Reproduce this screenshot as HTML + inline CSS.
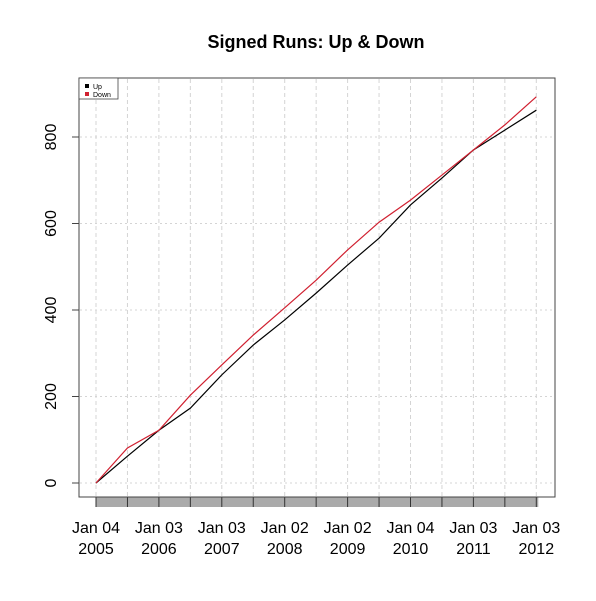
<!DOCTYPE html>
<html><head><meta charset="utf-8"><style>
body{margin:0;background:#fff;}
svg{font-family:"Liberation Sans",Arial,sans-serif;}
</style></head><body>
<svg id="chart" width="596" height="596">
<text x="316" y="48" text-anchor="middle" font-size="18" font-weight="bold">Signed Runs: Up &amp; Down</text>
<g id="grid"></g>
<g id="axes"></g>
<g id="series"></g>
<rect x="79" y="78" width="476" height="419" fill="none" stroke="#444" stroke-width="1"/>
<g>
<rect x="79" y="78" width="39" height="21" fill="#fff" stroke="#444" stroke-width="0.8"/>
<rect x="85" y="84" width="4" height="4" fill="#000"/>
<text x="93" y="89" font-size="7">Up</text>
<rect x="85" y="92" width="4" height="4" fill="#d02030"/>
<text x="93" y="97" font-size="7">Down</text>
</g>
</svg>
<script>
const years = [2005,2005.5,2006,2006.5,2007,2007.5,2008,2008.5,2009,2009.5,2010,2010.5,2011,2011.5,2012];
const upValues = [0,62,122,173,250,319,377,439,504,566,643,705,770,816,862];
const downValues = [0,81,122,203,273,342,405,469,539,603,654,712,770,828,893];
const yTicks = [0,200,400,600,800];
const xLabelYears = [2005,2006,2007,2008,2009,2010,2011,2012];
const xLabelDays = ["Jan 04","Jan 03","Jan 03","Jan 02","Jan 02","Jan 04","Jan 03","Jan 03"];
const NS="http://www.w3.org/2000/svg";
const xs=y=>96+(y-2005)*62.9;
const ys=v=>483-v*0.4325;
function mk(tag,attrs,parent){const e=document.createElementNS(NS,tag);for(const k in attrs)e.setAttribute(k,attrs[k]);parent.appendChild(e);return e;}
const grid=document.getElementById('grid'),axes=document.getElementById('axes'),series=document.getElementById('series');
years.forEach(y=>{
 const l=mk('line',{x1:xs(y),x2:xs(y),y1:79,y2:496,stroke:'#d4d4d4','stroke-dasharray':'4,3'},grid);
 
 
});
yTicks.forEach(v=>{
 const l=mk('line',{x1:80,x2:554,y1:ys(v),y2:ys(v),stroke:'#d4d4d4','stroke-dasharray':'2,3'},grid);
 
 
 const t=mk('line',{x1:72,x2:79,y1:ys(v),y2:ys(v),stroke:'#444'},axes);
 
 
 const tx=mk('text',{x:0,y:0,'font-size':'16','text-anchor':'middle',transform:`translate(56,${ys(v)}) rotate(-90)`},axes);
 tx.textContent=v;
 
 
});
const bar=mk('rect',{x:xs(2005),y:497,width:xs(2012)-xs(2005)+2,height:10,fill:'#aaa'},axes);


years.forEach(y=>{
 const t=mk('line',{x1:xs(y),x2:xs(y),y1:497,y2:507,stroke:'#333'},axes);
 
 
});
xLabelYears.forEach((y,i)=>{
 const t=mk('text',{x:xs(y),y:533,'font-size':'16','text-anchor':'middle'},axes);
 t.textContent=xLabelDays[i];
 
 
 const t2=mk('text',{x:xs(y),y:554,'font-size':'16','text-anchor':'middle'},axes);
 t2.textContent=y;
 
 
});
const pts=a=>a.map((v,i)=>xs(years[i])+','+ys(v)).join(' ');
const up=mk('polyline',{points:pts(upValues),fill:'none',stroke:'#000','stroke-width':1.2},series);


const down=mk('polyline',{points:pts(downValues),fill:'none',stroke:'#d02030','stroke-width':1.2},series);


</script>
</body></html>
